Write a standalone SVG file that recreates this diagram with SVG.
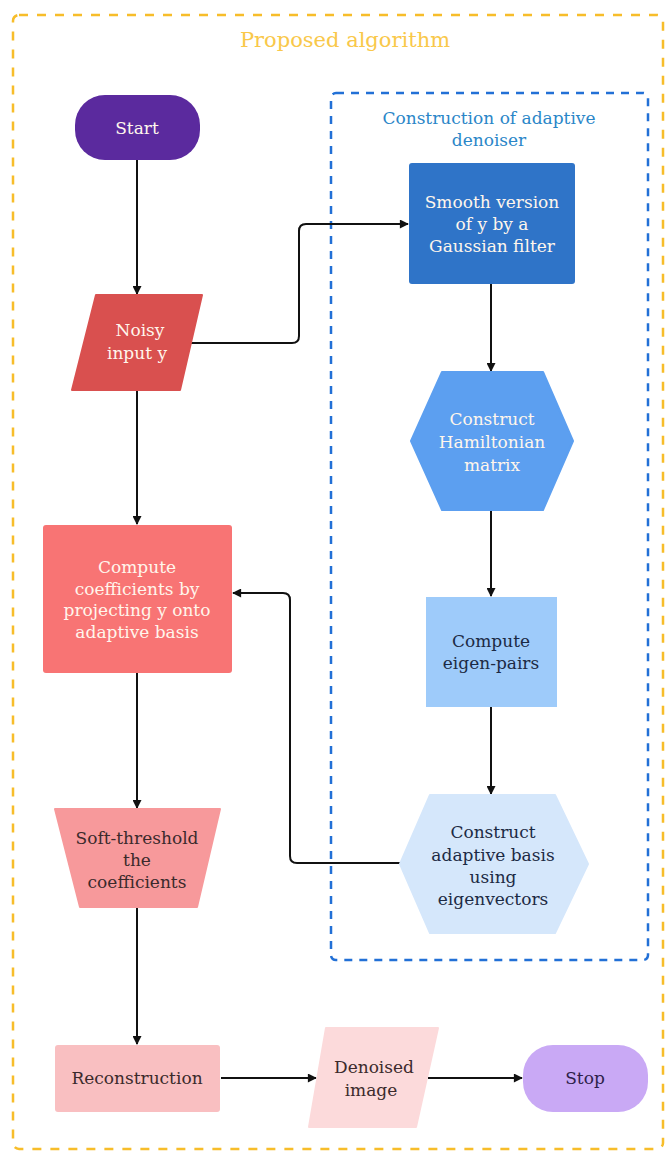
<svg xmlns="http://www.w3.org/2000/svg" width="668" height="1155" viewBox="0 0 668 1155">
<style>
.lbl{font-family:"DejaVu Serif","Liberation Serif",serif;font-size:17px;text-anchor:middle;dominant-baseline:central}
.lt{fill:#fff6ec}
.dk{fill:#3b2a2c}
.nv{fill:#1c2a44}
.conn{fill:none;stroke:#111;stroke-width:2}
</style>
<defs>
<marker id="ah" viewBox="0 0 10 10" refX="9" refY="5" markerWidth="10" markerHeight="9" orient="auto" markerUnits="userSpaceOnUse">
<path d="M0,0 L10,5 L0,10 z" fill="#111"/>
</marker>
</defs>
<rect width="668" height="1155" fill="#ffffff"/>
<g id="outer">
<rect x="13" y="15" width="650" height="1134" rx="6" fill="none" stroke="#f7bd2a" stroke-width="2.5" stroke-dasharray="9 9"/>
<text x="345" y="40" class="lbl" style="font-size:21px;fill:#f9c84a">Proposed algorithm</text>
</g>
<g id="inner">
<rect x="331" y="93" width="317" height="867" rx="5" fill="none" stroke="#2270d6" stroke-width="2.5" stroke-dasharray="8 7"/>
<text class="lbl" x="489" y="118" style="fill:#2a86c8">Construction of adaptive</text>
<text class="lbl" x="489" y="140" style="fill:#2a86c8">denoiser</text>
</g>
<g id="connectors">
<line class="conn" x1="137" y1="160" x2="137" y2="294" marker-end="url(#ah)"/>
<path class="conn" d="M188,343 H292 Q299,343 299,336 V231 Q299,224 306,224 H408" marker-end="url(#ah)"/>
<line class="conn" x1="491" y1="284" x2="491" y2="371" marker-end="url(#ah)"/>
<line class="conn" x1="491" y1="510" x2="491" y2="596" marker-end="url(#ah)"/>
<line class="conn" x1="491" y1="707" x2="491" y2="794" marker-end="url(#ah)"/>
<path class="conn" d="M400,863 H297 Q290,863 290,856 V600 Q290,593 283,593 H233" marker-end="url(#ah)"/>
<line class="conn" x1="137" y1="390" x2="137" y2="524" marker-end="url(#ah)"/>
<line class="conn" x1="137" y1="673" x2="137" y2="808" marker-end="url(#ah)"/>
<line class="conn" x1="137" y1="907" x2="137" y2="1044" marker-end="url(#ah)"/>
<line class="conn" x1="221" y1="1078" x2="316" y2="1078" marker-end="url(#ah)"/>
<line class="conn" x1="428" y1="1078" x2="522" y2="1078" marker-end="url(#ah)"/>
</g>
<g id="start">
<rect x="75" y="95" width="125" height="65" rx="30" fill="#5b2a9e"/>
<text class="lbl lt" x="137" y="128">Start</text>
</g>
<g id="noisy">
<path d="M96,295 H202 L180,390 H72 Z" fill="#d9504f" stroke="#d9504f" stroke-width="2" stroke-linejoin="round"/>
<text class="lbl lt" x="140" y="330">Noisy</text>
<text class="lbl lt" x="137" y="353">input y</text>
</g>
<g id="smooth">
<rect x="409" y="163" width="166" height="121" rx="3" fill="#2f74c8"/>
<text class="lbl lt" x="492" y="202">Smooth version</text>
<text class="lbl lt" x="492" y="224">of y by a</text>
<text class="lbl lt" x="492" y="246">Gaussian filter</text>
</g>
<g id="hamiltonian">
<path d="M442,372 H543 L573,441 L543,510 H442 L411,441 Z" fill="#5c9ff0" stroke="#5c9ff0" stroke-width="2" stroke-linejoin="round"/>
<text class="lbl lt" x="492" y="419">Construct</text>
<text class="lbl lt" x="492" y="442">Hamiltonian</text>
<text class="lbl lt" x="492" y="465">matrix</text>
</g>
<g id="eigen">
<rect x="426" y="597" width="131" height="110" fill="#9ecbfa"/>
<text class="lbl nv" x="491" y="641">Compute</text>
<text class="lbl nv" x="491" y="663">eigen-pairs</text>
</g>
<g id="basis">
<path d="M430,795 H555 L588,864 L555,933 H430 L400,864 Z" fill="#d5e7fb" stroke="#d5e7fb" stroke-width="2" stroke-linejoin="round"/>
<text class="lbl nv" x="493" y="832">Construct</text>
<text class="lbl nv" x="493" y="855">adaptive basis</text>
<text class="lbl nv" x="493" y="877">using</text>
<text class="lbl nv" x="493" y="899">eigenvectors</text>
</g>
<g id="coeff">
<rect x="43" y="525" width="189" height="148" rx="3" fill="#f87474"/>
<text class="lbl lt" x="137" y="567">Compute</text>
<text class="lbl lt" x="137" y="589">coefficients by</text>
<text class="lbl lt" x="137" y="610">projecting y onto</text>
<text class="lbl lt" x="137" y="632">adaptive basis</text>
</g>
<g id="soft">
<path d="M55,809 H220 L197,907 H80 Z" fill="#f7999b" stroke="#f7999b" stroke-width="2" stroke-linejoin="round"/>
<text class="lbl dk" x="137" y="838">Soft-threshold</text>
<text class="lbl dk" x="137" y="860">the</text>
<text class="lbl dk" x="137" y="882">coefficients</text>
</g>
<g id="recon">
<rect x="55" y="1045" width="165" height="67" rx="3" fill="#f9bfc1"/>
<text class="lbl dk" x="137" y="1078">Reconstruction</text>
</g>
<g id="denoised">
<path d="M326,1028 H438 L416,1127 H309 Z" fill="#fcdadb" stroke="#fcdadb" stroke-width="2" stroke-linejoin="round"/>
<text class="lbl dk" x="374" y="1067">Denoised</text>
<text class="lbl dk" x="371" y="1090">image</text>
</g>
<g id="stop">
<rect x="523" y="1045" width="125" height="67" rx="30" fill="#c9a9f5"/>
<text class="lbl" x="585" y="1078" style="fill:#2e1f4a">Stop</text>
</g>
</svg>
